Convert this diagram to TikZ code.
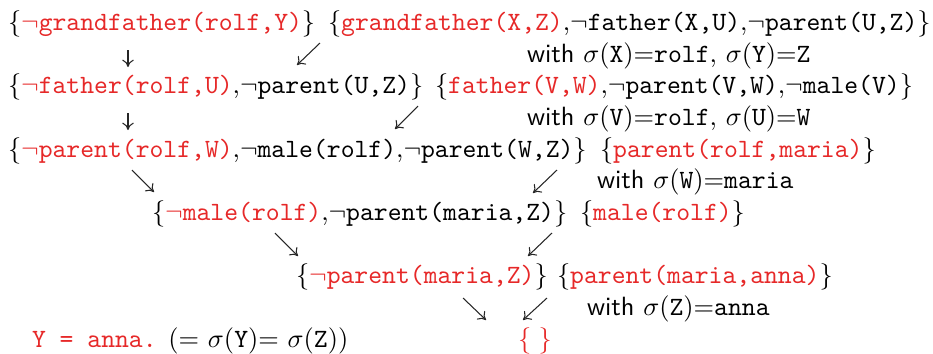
\documentclass[tikz,border=0pt]{standalone}
\usetikzlibrary{arrows.meta}
\definecolor{myred}{RGB}{230,40,40}
\newcommand{\rd}[1]{\textcolor{myred}{#1}}
\begin{document}
\begin{tikzpicture}[x=0.379pt,y=-0.379pt,
  txt/.style={anchor=base west,inner sep=0pt,outer sep=0pt,font=\fontsize{10}{12}\selectfont},
  arr/.style={-{To[length=2.8pt,width=4.4pt]},line width=0.4pt,black!85}]
\useasboundingbox (0,0) rectangle (933,353);
% clauses
\node[txt] (A1) at (8,30) {$\{$\rd{\texttt{$\neg$grandfather(rolf,Y)}}$\}$};
\node[txt] (B1) at (328,30) {$\{$\rd{\texttt{grandfather(X,Z)}},\texttt{$\neg$father(X,U)},\texttt{$\neg$parent(U,Z)}$\}$};
\node[txt] (W1) at (527,62) {\textsf{with} $\sigma$(\texttt{X})=\texttt{rolf}, $\sigma$(\texttt{Y})=\texttt{Z}};
\node[txt] (A2) at (8,93) {$\{$\rd{\texttt{$\neg$father(rolf,U)}},\texttt{$\neg$parent(U,Z)}$\}$};
\node[txt] (B2) at (435,93) {$\{$\rd{\texttt{father(V,W)}},\texttt{$\neg$parent(V,W)},\texttt{$\neg$male(V)}$\}$};
\node[txt] (W2) at (527,125) {\textsf{with} $\sigma$(\texttt{V})=\texttt{rolf}, $\sigma$(\texttt{U})=\texttt{W}};
\node[txt] (A3) at (8,157) {$\{$\rd{\texttt{$\neg$parent(rolf,W)}},\texttt{$\neg$male(rolf)},\texttt{$\neg$parent(W,Z)}$\}$};
\node[txt] (B3) at (600,157) {$\{$\rd{\texttt{parent(rolf,maria)}}$\}$};
\node[txt] (W3) at (597,188) {\textsf{with} $\sigma$(\texttt{W})=\texttt{maria}};
\node[txt] (A4) at (152,220) {$\{$\rd{\texttt{$\neg$male(rolf)}},\texttt{$\neg$parent(maria,Z)}$\}$};
\node[txt] (B4) at (580,220) {$\{$\rd{\texttt{male(rolf)}}$\}$};
\node[txt] (A5) at (296,283) {$\{$\rd{\texttt{$\neg$parent(maria,Z)}}$\}$};
\node[txt] (B5) at (557,283) {$\{$\rd{\texttt{parent(maria,anna)}}$\}$};
\node[txt] (W4) at (587,315) {\textsf{with} $\sigma$(\texttt{Z})=\texttt{anna}};
\node[txt] (R) at (32,347) {\rd{\texttt{Y = anna.}} (= $\sigma$(\texttt{Y})= $\sigma$(\texttt{Z}))};
\node[txt] (E) at (518,347) {\rd{$\{\;\}$}};
% arrow end points
\coordinate (a1s) at (128,50);  \coordinate (a1e) at (128,67);
\coordinate (a2s) at (320,43);  \coordinate (a2e) at (297,65);
\coordinate (a3s) at (128,113); \coordinate (a3e) at (128,130);
\coordinate (a4s) at (418,106); \coordinate (a4e) at (395,129);
\coordinate (a5s) at (132,170); \coordinate (a5e) at (154,192);
\coordinate (a6s) at (557,170); \coordinate (a6e) at (533,193);
\coordinate (a7s) at (275,233); \coordinate (a7e) at (298,256);
\coordinate (a8s) at (552,233); \coordinate (a8e) at (528,256);
\coordinate (a9s) at (463,298); \coordinate (a9e) at (486,320);
\coordinate (a10s) at (547,298); \coordinate (a10e) at (523,320);
\foreach \i in {1,...,10} \draw[arr] (a\i s) -- (a\i e);
\end{tikzpicture}
\end{document}
